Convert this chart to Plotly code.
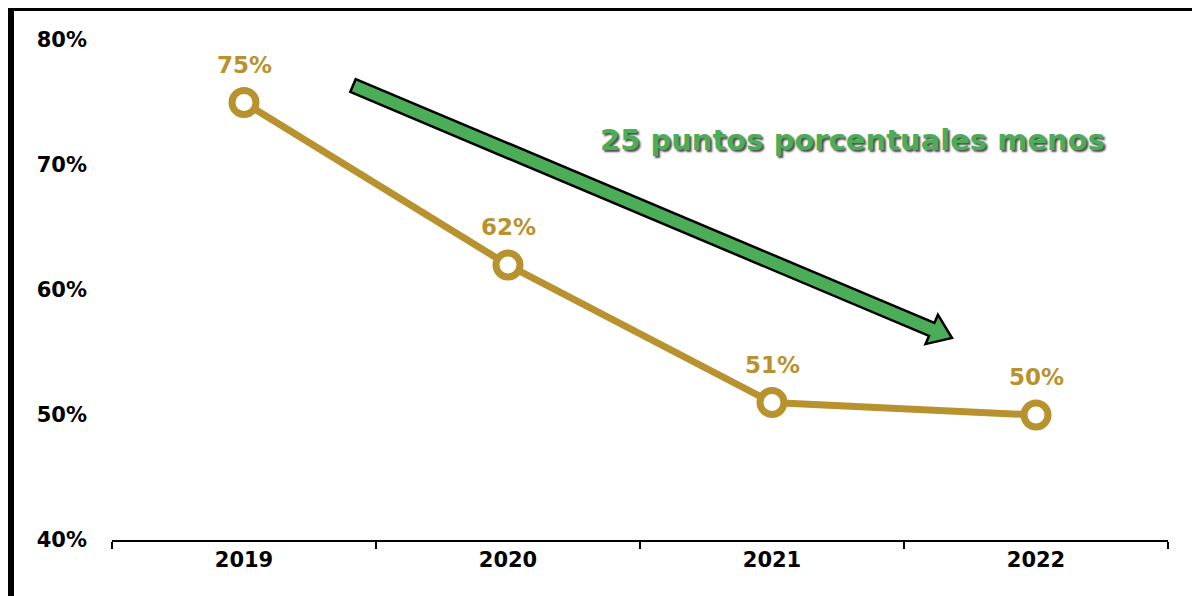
import plotly.graph_objects as go

years = ["2019", "2020", "2021", "2022"]
values = [75, 62, 51, 50]
labels = ["75%", "62%", "51%", "50%"]
y_ticks = [40, 50, 60, 70, 80]
y_tick_labels = ["40%", "50%", "60%", "70%", "80%"]
note = "25 puntos porcentuales menos"

GOLD = "#B8922E"
GREEN = "#4CAD58"
FONT = "DejaVu Sans"

# the page body has an 8px default margin; compensate so the plot area lands
# at window pixels x 112..1168, y 40..540
OFF = 8
W, H = 1200 - OFF, 596 - OFF
L, R, T, B = 112, 1168, 40, 540


def px(x):
    return (x - L) / (R - L)


def py(y):
    return (B - y) / (B - T)


fig = go.Figure()
fig.add_trace(go.Scatter(
    x=years, y=values, mode="lines+markers",
    line=dict(color=GOLD, width=7),
    marker=dict(size=24, color="white", line=dict(color=GOLD, width=7)),
    hoverinfo="skip", showlegend=False,
))

for i, (y, t) in enumerate(zip(values, labels)):
    fig.add_annotation(x=i, y=y, xref="x", yref="y", text=t, showarrow=False,
                       yshift=38, xanchor="center", yanchor="middle",
                       font=dict(family=FONT, size=23, color=GOLD, weight="bold"))

pts = [(355.7, 79.05), (934.4, 322.9), (937.9, 314.7), (952, 338),
       (925.5, 344.1), (929, 335.9), (350.3, 91.95)]
path = "M " + " L ".join(f"{px(a):.5f},{py(b):.5f}" for a, b in pts) + " Z"
fig.add_shape(type="path", path=path, xref="paper", yref="paper",
              fillcolor=GREEN, line=dict(color="black", width=2.5))

fig.add_annotation(x=px(852), y=py(140), xref="paper", yref="paper",
                   xanchor="center", yanchor="middle",
                   text=note, showarrow=False,
                   font=dict(family=FONT, size=29, color=GREEN, weight="bold",
                             shadow="2px 2px 2px rgba(0,0,0,0.7)"))

# frame lines (top and left)
fig.add_shape(type="line", xref="paper", yref="paper",
              x0=px(5), x1=px(1205), y0=py(8), y1=py(8),
              line=dict(color="black", width=6))
fig.add_shape(type="line", xref="paper", yref="paper",
              x0=px(11), x1=px(11), y0=py(5), y1=py(600),
              line=dict(color="black", width=6))

fig.update_layout(
    width=W, height=H,
    margin=dict(l=L - OFF, r=W - (R - OFF), t=T - OFF, b=H - (B - OFF), pad=0),
    paper_bgcolor="white", plot_bgcolor="white",
    xaxis=dict(type="category", showline=True, linecolor="black", linewidth=2,
               ticks="outside", tickson="boundaries", ticklen=7, tickwidth=2,
               tickcolor="black", showgrid=False, zeroline=False,
               tickfont=dict(family=FONT, size=21, color="black", weight="bold"),
               range=[-0.5, 3.5]),
    yaxis=dict(range=[40, 80], tickvals=y_ticks, ticktext=y_tick_labels,
               showline=False, showgrid=False, zeroline=False, ticks="",
               ticklabelstandoff=24,
               tickfont=dict(family=FONT, size=21, color="black", weight="bold")),
)

fig.write_html("out.html")
